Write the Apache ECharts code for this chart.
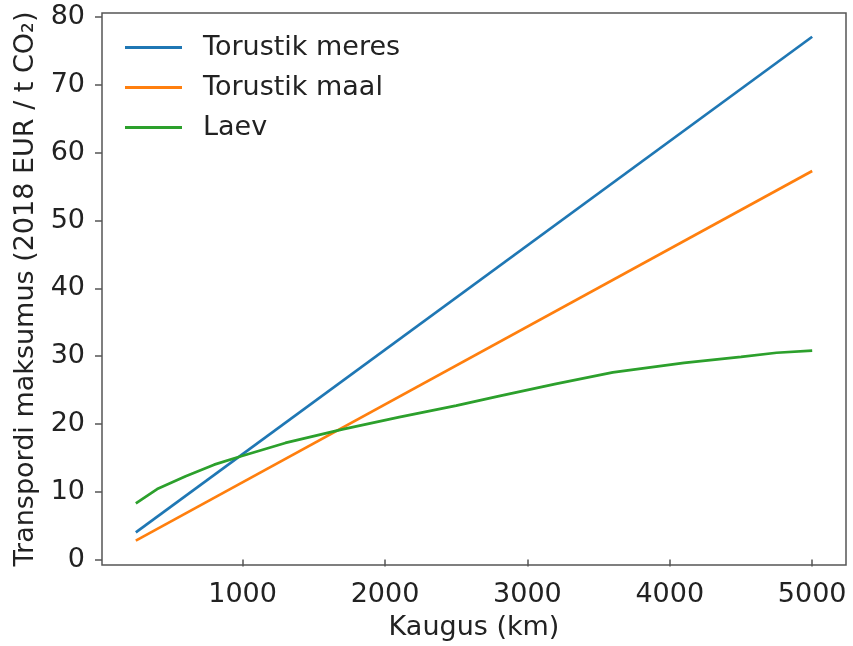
<!DOCTYPE html>
<html>
<head>
<meta charset="utf-8">
<script src="https://cdn.jsdelivr.net/npm/echarts@6/dist/echarts.min.js"></script>
<style>
html,body{margin:0;padding:0;background:#fff;}
#chart{width:853px;height:646px;}
</style>
</head>
<body>
<div id="chart"></div>
<script>
// Data
var seriesNames = ['Torustik meres', 'Torustik maal', 'Laev'];
var pipeSeaKm = [250, 5000];
var pipeSeaCost = [4.0, 77.1];
var pipeLandKm = [250, 5000];
var pipeLandCost = [2.8, 57.3];
var shipKm = [250, 400, 600, 800, 1000, 1300, 1700, 2100, 2500, 2800, 3200, 3600, 4100, 4500, 4750, 5000];
var shipCost = [8.3, 10.4, 12.3, 14.0, 15.3, 17.2, 19.2, 21.0, 22.7, 24.1, 25.9, 27.6, 29.0, 29.9, 30.5, 30.8];
var xTicks = [1000, 2000, 3000, 4000, 5000];
var yTicks = [0, 10, 20, 30, 40, 50, 60, 70, 80];
var colors = ['#1f77b4', '#ff7f0e', '#2ca02c'];

function pairs(xs, ys) {
  return xs.map(function (x, i) { return [x, ys[i]]; });
}

var FONT = 'DejaVu Sans';
var FS = 27;
var TXT = '#222';
var AX = '#555';

var chart = echarts.init(document.getElementById('chart'), null, {renderer: 'canvas'});
chart.setOption({
  animation: false,
  backgroundColor: '#fff',
  textStyle: {fontFamily: FONT},
  grid: {
    left: 102, right: 7, top: 13, bottom: 80,
    show: true, borderColor: AX, borderWidth: 1.5, backgroundColor: 'transparent'
  },
  legend: {
    orient: 'vertical', left: 125, top: 34, padding: 0,
    icon: 'rect', itemWidth: 57, itemHeight: 3, itemGap: 13,
    textStyle: {fontFamily: FONT, fontSize: FS, color: TXT, padding: [0, 0, 0, 16]},
    data: seriesNames
  },
  xAxis: {
    type: 'value', min: 12.5, max: 5237.5,
    name: 'Kaugus (km)', nameLocation: 'middle', nameGap: 49,
    nameTextStyle: {fontFamily: FONT, fontSize: FS, color: TXT},
    axisLine: {show: false},
    splitLine: {show: false},
    axisTick: {show: true, length: 7, lineStyle: {color: AX, width: 1.5}, customValues: xTicks},
    axisLabel: {fontFamily: FONT, fontSize: FS, color: TXT, margin: 16, customValues: xTicks,
                formatter: function (v) { return String(v); }}
  },
  yAxis: {
    type: 'value', min: -0.8, max: 80.6,
    name: 'Transpordi maksumus (2018 EUR / t CO₂)', nameLocation: 'middle', nameGap: 58,
    nameTextStyle: {fontFamily: FONT, fontSize: FS, color: TXT},
    axisLine: {show: false},
    splitLine: {show: false},
    axisTick: {show: true, length: 7, lineStyle: {color: AX, width: 1.5}, customValues: yTicks},
    axisLabel: {fontFamily: FONT, fontSize: FS, color: TXT, margin: 17, customValues: yTicks,
                formatter: function (v) { return String(v); }}
  },
  series: [
    {name: seriesNames[0], type: 'line', data: pairs(pipeSeaKm, pipeSeaCost), showSymbol: false, symbol: 'none',
     lineStyle: {color: colors[0], width: 2.7}, itemStyle: {color: colors[0]}},
    {name: seriesNames[1], type: 'line', data: pairs(pipeLandKm, pipeLandCost), showSymbol: false, symbol: 'none',
     lineStyle: {color: colors[1], width: 2.7}, itemStyle: {color: colors[1]}},
    {name: seriesNames[2], type: 'line', data: pairs(shipKm, shipCost), showSymbol: false, symbol: 'none',
     lineStyle: {color: colors[2], width: 2.7}, itemStyle: {color: colors[2]}}
  ]
});
</script>
</body>
</html>
